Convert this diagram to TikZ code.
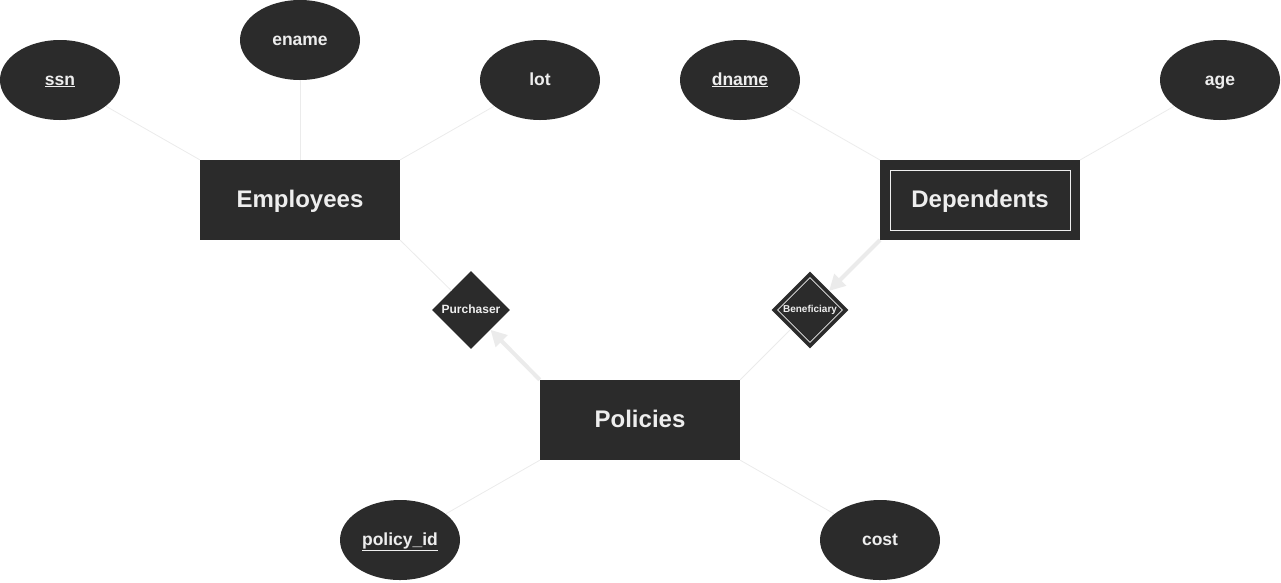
\documentclass[tikz,border=0pt]{standalone}
\usepackage{fontspec}
\setmainfont{Liberation Sans}
\usetikzlibrary{shapes.geometric,arrows.meta}
\definecolor{erfill}{HTML}{2B2B2B}
\definecolor{ertext}{HTML}{EEEEEE}
\definecolor{erline}{HTML}{EBEBEB}

\begin{document}
\begin{tikzpicture}[x=1pt,y=-1pt,
            entity/.style={rectangle,fill=erfill,text=ertext,minimum width=200pt,minimum height=80pt,inner sep=0pt,text height=17pt,text depth=3pt,font=\fontsize{24}{28}\selectfont\bfseries},
            weakentity/.style={entity,minimum width=180pt,minimum height=60pt,draw=ertext,line width=0.8pt,preaction={draw=erfill,line width=20pt},outer sep=10pt},
            attr/.style={ellipse,fill=erfill,text=ertext,minimum width=120pt,minimum height=80pt,inner sep=0pt,text height=12.6pt,text depth=2.5pt,font=\fontsize{17.5}{20}\selectfont\bfseries},
            rel/.style={diamond,fill=erfill,text=ertext,minimum size=78pt,aspect=1,inner sep=0pt,text height=8.6pt,text depth=1.7pt,font=\fontsize{12}{14}\selectfont\bfseries},
            weakrel/.style={rel,minimum size=68pt,draw=ertext,line width=0.8pt,preaction={draw=erfill,line width=8.5pt},outer sep=4pt,text height=7.2pt,text depth=1.4pt,font=\fontsize{10}{12}\selectfont\bfseries},
            link/.style={draw=erline,line width=0.8pt},
            bigarrow/.style={draw=erline,line width=4pt,-{Triangle[length=16pt,width=16pt]}}]
            \useasboundingbox (0,0) rectangle (1281,582);
            \node[entity] (employees) at (300,200) {Employees};
            \node[weakentity] (dependents) at (980,200) {Dependents};
            \node[entity] (policies) at (640,420) {Policies};
            \node[rel] (purchaser) at (471,310) {Purchaser};
            \node[weakrel] (beneficiary) at (810,310) {Beneficiary};
            \node[attr] (ssn) at (60,80) {\underline{ssn}};
            \node[attr] (ename) at (300,40) {ename};
            \node[attr] (lot) at (540,80) {lot};
            \node[attr] (dname) at (740,80) {\underline{dname}};
            \node[attr] (age) at (1220,80) {age};
            \node[attr] (policyid) at (400,540) {\underline{policy\_id}};
            \node[attr] (cost) at (880,540) {cost};
            \draw[link] (ssn) -- (employees.north west);
            \draw[link] (ename) -- (employees.north);
            \draw[link] (lot) -- (employees.north east);
            \draw[link] (dname) -- (dependents.north west);
            \draw[link] (age) -- (dependents.north east);
            \draw[link] (policyid) -- (policies.south west);
            \draw[link] (cost) -- (policies.south east);
            \draw[link] (employees.south east) -- (purchaser);
            \draw[link] (policies.north east) -- (beneficiary);
            \draw[bigarrow] (policies.north west) -- (purchaser);
            \draw[bigarrow] (dependents.south west) -- (beneficiary);
        \end{tikzpicture}
\end{document}
